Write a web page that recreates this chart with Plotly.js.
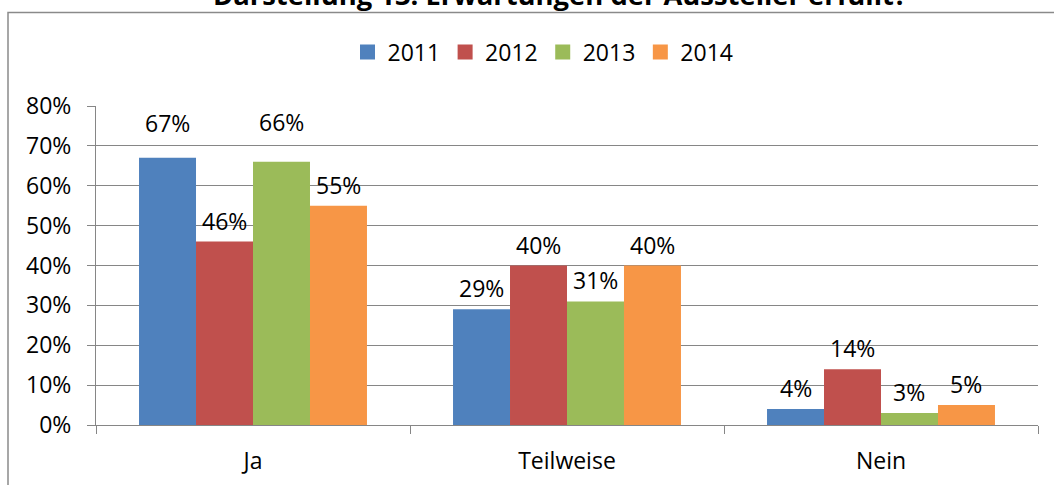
<!DOCTYPE html>
<html>
<head>
<meta charset="utf-8">
<script src="https://cdn.plot.ly/plotly-3.0.1.min.js"></script>
<style>
html,body{margin:0;padding:0;background:#fff;}
#chart{width:1054px;height:485px;}
</style>
</head>
<body>
<div id="chart"></div>
<script>
const categories = ["Ja", "Teilweise", "Nein"];
const years = ["2011", "2012", "2013", "2014"];
const v2011 = [0.67, 0.29, 0.04];
const v2012 = [0.46, 0.40, 0.14];
const v2013 = [0.66, 0.31, 0.03];
const v2014 = [0.55, 0.40, 0.05];
const seriesValues = [v2011, v2012, v2013, v2014];
const colors = ["#4F81BD", "#C0504D", "#9BBB59", "#F79646"];
const titleText = "Darstellung 13: Erwartungen der Aussteller erfüllt?";

const FONT = "Open Sans, Lato, sans-serif";
const FS = 23;
const plotL = 96, plotR = 16, plotT = 106, plotB = 60;
const W = 1054, H = 485;
const plotW = W - plotL - plotR, plotH = H - plotT - plotB;
const bargap = 0.274;
const barPx = plotW / categories.length * (1 - bargap) / years.length;
// extra lift (px) for labels that sit higher in the reference
const extraLift = {"0-0": 14, "2-0": 19};

const traces = years.map((y, i) => ({
  type: "bar",
  name: y,
  x: categories,
  y: seriesValues[i],
  marker: {color: colors[i], line: {width: 0}},
  hoverinfo: "skip",
  showlegend: false
}));
// legend proxies with larger square symbols
years.forEach((y, i) => {
  traces.push({
    type: "scatter", mode: "markers", name: y,
    x: [null], y: [null],
    marker: {symbol: "square", size: 15, color: colors[i]},
    hoverinfo: "skip", showlegend: true
  });
});

const annotations = [];
seriesValues.forEach((vals, i) => {
  vals.forEach((v, j) => {
    annotations.push({
      x: categories[j], y: v, xref: "x", yref: "y",
      text: Math.round(v * 100) + "%",
      showarrow: false, yanchor: "bottom", xanchor: "center",
      xshift: (i - 1.5) * barPx,
      yshift: 3 + (extraLift[i + "-" + j] || 0),
      font: {family: FONT, size: FS, color: "#000"}
    });
  });
});
annotations.push({
  xref: "paper", yref: "paper",
  x: (560 - plotL) / plotW, y: (plotH + plotT - 15) / plotH,
  xanchor: "center", yanchor: "bottom",
  text: "<b>" + titleText + "</b>", showarrow: false,
  font: {family: FONT, size: 27.4, color: "#000"}
});

const layout = {
  width: W, height: H,
  margin: {l: plotL, r: plotR, t: plotT, b: plotB},
  paper_bgcolor: "#fff", plot_bgcolor: "#fff",
  barmode: "group", bargap: bargap, bargroupgap: 0,
  font: {family: FONT, size: FS, color: "#000"},
  showlegend: true,
  legend: {
    orientation: "h", x: (543 - plotL) / plotW, xanchor: "center",
    y: (plotH + plotT - 52) / plotH, yanchor: "middle",
    itemgap: 2, itemwidth: 30, font: {family: FONT, size: FS, color: "#000"},
    traceorder: "normal"
  },
  xaxis: {
    type: "category", showgrid: false, showline: true, linecolor: "#868686", linewidth: 1,
    ticks: "outside", tickson: "boundaries", ticklen: 8, tickcolor: "#868686",
    tickfont: {family: FONT, size: FS, color: "#000"}, ticklabelstandoff: 15,
    fixedrange: true
  },
  yaxis: {
    range: [0, 0.8], dtick: 0.1, tickformat: ".0%",
    showgrid: true, gridcolor: "#868686", gridwidth: 1,
    showline: true, linecolor: "#868686", linewidth: 1,
    ticks: "outside", ticklen: 8, tickcolor: "#868686",
    zeroline: false, ticklabelstandoff: 11,
    tickfont: {family: FONT, size: FS, color: "#000"}, fixedrange: true
  },
  annotations: annotations,
  shapes: [{
    type: "rect", xref: "paper", yref: "paper", layer: "below",
    x0: (8 - plotL) / plotW, x1: (W + 10 - plotL) / plotW,
    y0: -(H + 10 - plotT - plotH) / plotH, y1: (plotH + plotT - 12.5) / plotH,
    line: {color: "#8a8a8a", width: 1.5}, fillcolor: "rgba(0,0,0,0)"
  }]
};

Plotly.newPlot("chart", traces, layout, {displayModeBar: false, staticPlot: true});
</script>
</body>
</html>
